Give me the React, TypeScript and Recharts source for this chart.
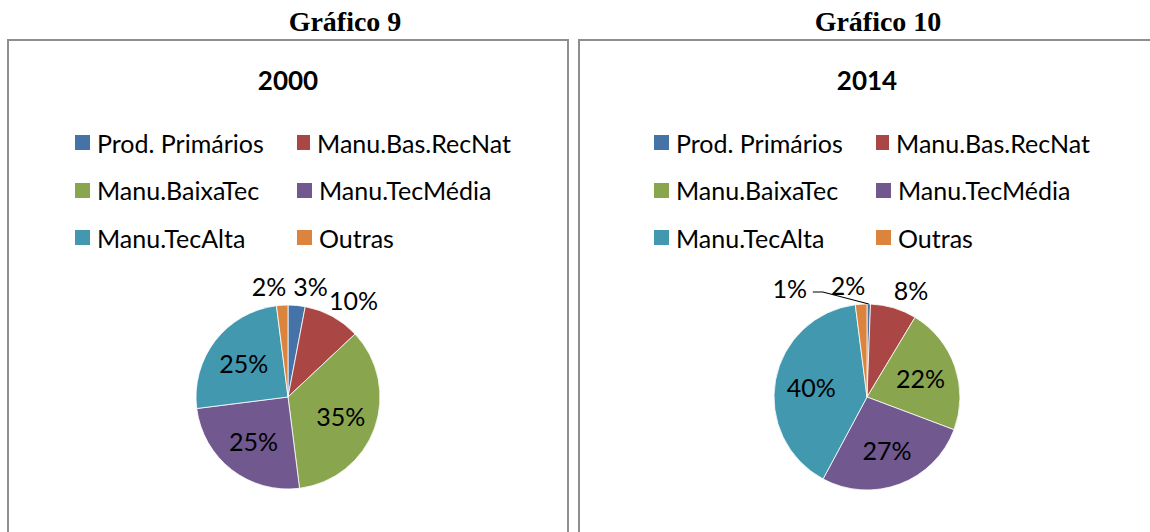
import React from 'react'
import { PieChart, Pie, Cell, Legend } from 'recharts'

const CATEGORIES = [
  'Prod. Primários',
  'Manu.Bas.RecNat',
  'Manu.BaixaTec',
  'Manu.TecMédia',
  'Manu.TecAlta',
  'Outras',
]
const VALUES_2000 = [3, 10, 35, 25, 25, 2]
const VALUES_2014 = [0.6, 8, 22, 27, 40, 2]
const COLORS = ['#4572A7', '#AA4643', '#89A54E', '#71588F', '#4198AF', '#DB843D']

const SANS = 'Lato, "Open Sans", sans-serif'
const RAD = Math.PI / 180

function renderLabel(props: any) {
  const { cx, cy, midAngle, outerRadius, percent, index } = props
  const text = `${Math.round(percent * 100)}%`
  const c = Math.cos(midAngle * RAD)
  const s = Math.sin(midAngle * RAD)
  const common = { fontFamily: SANS, fontSize: 25, fill: '#000', dominantBaseline: 'central' as const }

  if (percent >= 0.15) {
    const r = outerRadius * 0.61
    return (
      <text key={index} x={cx + r * c} y={cy - r * s} textAnchor="middle" {...common}>
        {text}
      </text>
    )
  }
  if (percent >= 0.01) {
    const r = outerRadius + 19
    return (
      <text key={index} x={cx + r * c + Math.sign(c) * 12} y={cy - r * s} textAnchor="middle" {...common}>
        {text}
      </text>
    )
  }
  // tiny slice: label pushed to the left with a leader line
  const lx = cx - outerRadius * 0.83
  const ly = cy - outerRadius - 16
  const px = cx + outerRadius * c
  const py = cy - outerRadius * s
  return (
    <g key={index}>
      <path
        d={`M${lx + 23},${ly + 4}L${lx + 33},${ly + 4}L${px},${py}`}
        stroke="#000"
        strokeWidth={1.2}
        fill="none"
      />
      <text x={lx} y={ly} textAnchor="middle" {...common}>
        {text}
      </text>
    </g>
  )
}

function renderLegend(props: any) {
  const items = [...(props.payload || [])].sort(
    (a: any, b: any) => CATEGORIES.indexOf(a.value) - CATEGORIES.indexOf(b.value)
  )
  return (
    <div
      style={{
        display: 'grid',
        gridTemplateColumns: '222px 214px',
        gridAutoRows: '47.5px',
        fontFamily: SANS,
        fontSize: 25,
        color: '#000',
      }}
    >
      {items.map((p: any) => {
        const i = CATEGORIES.indexOf(p.value)
        return (
          <div key={p.value} style={{ display: 'flex', alignItems: 'center', whiteSpace: 'nowrap' }}>
            <span
              style={{ width: 15, height: 15, background: COLORS[i], display: 'inline-block', marginRight: 7 }}
            />
            {p.value}
          </div>
        )
      })}
    </div>
  )
}

function PiePanel({
  title,
  values,
  left,
  width,
  radius,
  cx,
}: {
  title: string
  values: number[]
  left: number
  width: number
  radius: number
  cx: number
}) {
  const data = CATEGORIES.map((name, i) => ({ name, value: values[i] }))
  const cy = 356
  return (
    <div
      style={{
        position: 'absolute',
        left,
        top: 39,
        width,
        height: 500,
        border: '2px solid #8e8e8e',
        borderBottom: 'none',
        boxSizing: 'border-box',
      }}
    >
      <div
        style={{
          position: 'absolute',
          left: cx - 100,
          width: 200,
          top: 22,
          lineHeight: '34px',
          textAlign: 'center',
          fontFamily: SANS,
          fontWeight: 'bold',
          fontSize: 26,
        }}
      >
        {title}
      </div>
      <PieChart width={width - 4} height={491} margin={{ top: 0, right: 0, bottom: 0, left: 0 }}>
        <Legend
          content={renderLegend}
          wrapperStyle={{ left: cx - 213, top: 78, width: 436 }}
        />
        <Pie
          data={data}
          dataKey="value"
          nameKey="name"
          cx={cx}
          cy={cy}
          outerRadius={radius}
          startAngle={90}
          endAngle={-270}
          stroke="#ffffff"
          strokeWidth={0.8}
          label={renderLabel}
          labelLine={false}
          isAnimationActive={false}
        >
          {data.map((_, i) => (
            <Cell key={i} fill={COLORS[i]} />
          ))}
        </Pie>
      </PieChart>
    </div>
  )
}

export default function App() {
  const heading = {
    position: 'absolute' as const,
    top: 4,
    width: 240,
    lineHeight: '36px',
    textAlign: 'center' as const,
    fontFamily: '"Liberation Serif", "Times New Roman", serif',
    fontWeight: 'bold' as const,
    fontSize: 28,
  }
  return (
    <div style={{ position: 'relative', width: 1150, height: 532, overflow: 'hidden', background: '#fff' }}>
      <style>{'body{margin:0}'}</style>
      <div style={{ ...heading, left: 345 - 120 }}>Gráfico 9</div>
      <div style={{ ...heading, left: 878 - 120 }}>Gráfico 10</div>
      <PiePanel title="2000" values={VALUES_2000} left={7} width={562} radius={92} cx={279} />
      <PiePanel title="2014" values={VALUES_2014} left={578} width={600} radius={93} cx={287} />
    </div>
  )
}
